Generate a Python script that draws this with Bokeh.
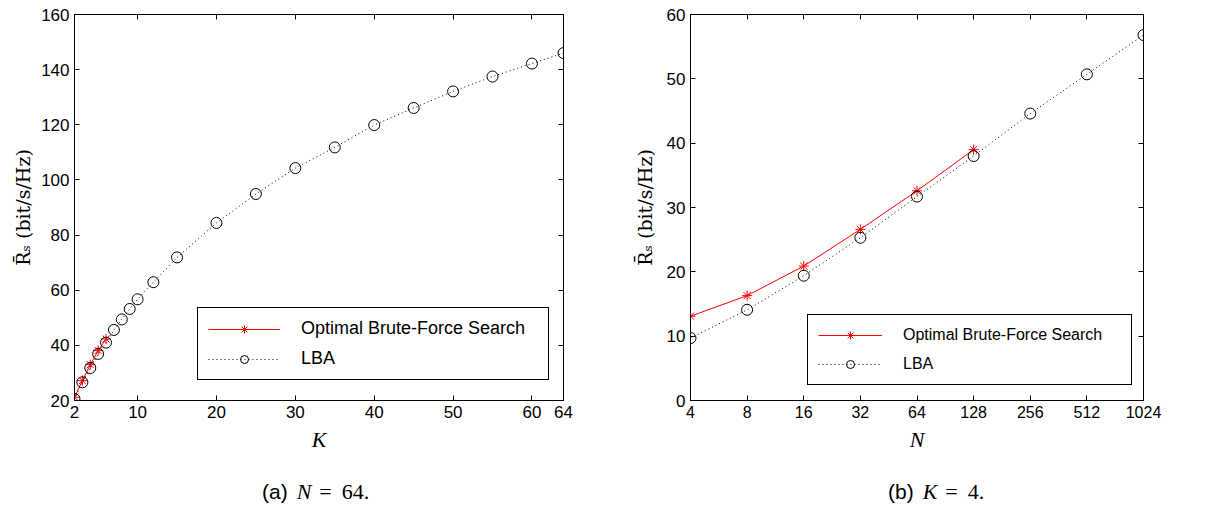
import numpy as np
from bokeh.plotting import figure
from bokeh.layouts import row, column
from bokeh.models import (LinearAxis, LogAxis, FixedTicker, Legend,
                          LegendItem, Range1d, Div)
from bokeh.embed import file_html
from bokeh.resources import INLINE

# ---------------- data: (a) N = 64 ----------------
K_opt = [2, 3, 4, 5, 6]
R_opt_a = [21.2, 27.2, 33.0, 38.1, 42.3]
K_lba = [2, 3, 4, 5, 6, 7, 8, 9, 10, 12, 15, 20, 25, 30, 35, 40, 45, 50, 55, 60, 64]
R_lba_a = [20.6, 26.6, 31.8, 36.9, 41.0, 45.6, 49.4, 53.2, 56.7, 62.9, 71.9,
           84.4, 94.9, 104.3, 111.8, 119.9, 126.1, 132.1, 137.5, 142.2, 146.0]
xticks_a = [2, 10, 20, 30, 40, 50, 60, 64]
yticks_a = [20, 40, 60, 80, 100, 120, 140, 160]

# ---------------- data: (b) K = 4 ----------------
N_opt = [4, 8, 16, 32, 64, 128]
R_opt_b = [13.1, 16.3, 20.9, 26.6, 32.6, 39.0]
N_lba = [4, 8, 16, 32, 64, 128, 256, 512, 1024]
R_lba_b = [9.7, 14.1, 19.4, 25.3, 31.7, 38.0, 44.6, 50.7, 56.8]
xticks_b = [4, 8, 16, 32, 64, 128, 256, 512, 1024]
xtick_labels_b = ["4", "8", "16", "32", "64", "128", "256", "512", "1024"]
yticks_b = [0, 10, 20, 30, 40, 50, 60]

LEG_OPT = "Optimal Brute-Force Search"
LEG_LBA = "LBA"
YLABEL = "R\u0304\u209b (bit/s/Hz)"

SANS = "Liberation Sans"
SERIF = "Liberation Serif"


def style_axis(ax, ticks, size, hidden=False):
    ax.ticker = FixedTicker(ticks=ticks)
    ax.major_tick_in = 5
    ax.major_tick_out = 0
    ax.minor_tick_in = 0
    ax.minor_tick_out = 0
    ax.axis_line_color = "black"
    ax.major_tick_line_color = "black"
    ax.major_label_text_color = "black"
    ax.major_label_text_font = SANS
    if hidden:
        ax.major_label_overrides = {t: "" for t in ticks}
        ax.major_label_text_font_size = "1px"
        ax.major_label_standoff = 0
    else:
        ax.major_label_text_font_size = size
        ax.major_label_standoff = 5


def make_fig(xr, yr, xtype, frame_w, left, right):
    p = figure(frame_width=frame_w, frame_height=386, x_range=xr, y_range=yr,
               x_axis_type=xtype, output_backend="svg", toolbar_location=None,
               min_border_left=left, min_border_right=right,
               min_border_top=14, min_border_bottom=60)
    p.xgrid.visible = False
    p.ygrid.visible = False
    p.outline_line_color = "black"
    p.outline_line_alpha = 1.0
    p.outline_line_width = 1
    p.background_fill_color = "white"
    p.border_fill_color = "white"
    return p


def label_axes(xa, ya, xlabel, ystandoff):
    xa.axis_label = xlabel
    xa.axis_label_text_font = SERIF
    xa.axis_label_text_font_style = "italic"
    xa.axis_label_text_font_size = "22px"
    xa.axis_label_text_color = "black"
    xa.axis_label_standoff = 6
    ya.axis_label = YLABEL
    ya.axis_label_text_font = "DejaVu Serif"
    ya.axis_label_text_font_style = "normal"
    ya.axis_label_text_font_size = "19px"
    ya.axis_label_text_color = "black"
    ya.axis_label_standoff = ystandoff


def add_series(p, xo, yo, xl, yl):
    r1 = p.line(xo, yo, line_color="red", line_width=1)
    r2 = p.scatter(xo, yo, marker="asterisk", size=10, line_color="red", line_width=1)
    r3 = p.line(xl, yl, line_color="black", line_width=1, line_dash="1 3")
    r4 = p.scatter(xl, yl, marker="circle", size=11, fill_color=None,
                   line_color="black", line_width=1)
    return [r1, r2], [r3, r4]


def add_legend(p, opt, lba, loc, glyph_w, label_w, size):
    leg = Legend(items=[LegendItem(label=LEG_OPT, renderers=opt),
                        LegendItem(label=LEG_LBA, renderers=lba)],
                 location=loc, padding=10, spacing=9, glyph_width=glyph_w,
                 glyph_height=20, label_height=20, label_width=label_w,
                 label_standoff=21, border_line_color="black",
                 border_line_width=1, border_line_alpha=1.0,
                 background_fill_alpha=1.0, label_text_font=SANS,
                 label_text_font_size=size, label_text_color="black", margin=0)
    p.add_layout(leg, "center")
    return leg


# ---------------- (a) ----------------
pa = make_fig(Range1d(2, 64), Range1d(20, 160), "linear", 489, 74, 47)
bottom_a = pa.xaxis[0]
left_a = pa.yaxis[0]
style_axis(bottom_a, xticks_a, "17px")
style_axis(left_a, yticks_a, "17px")
label_axes(bottom_a, left_a, "K", 4)
top_a = LinearAxis()
right_a = LinearAxis()
style_axis(top_a, xticks_a, "1px", hidden=True)
style_axis(right_a, yticks_a, "1px", hidden=True)
pa.add_layout(top_a, "above")
pa.add_layout(right_a, "right")
opt_a, lba_a = add_series(pa, K_opt, R_opt_a, K_lba, R_lba_a)
add_legend(pa, opt_a, lba_a, (123, 20), 72, 237, "18px")

# ---------------- (b) ----------------
pb = make_fig(Range1d(4, 1024), Range1d(0, 60), "log", 453, 80, 60)
bottom_b = pb.xaxis[0]
left_b = pb.yaxis[0]
style_axis(bottom_b, xticks_b, "16px")
bottom_b.major_label_overrides = dict(zip(xticks_b, xtick_labels_b))
style_axis(left_b, yticks_b, "17px")
label_axes(bottom_b, left_b, "N", 8)
top_b = LogAxis()
right_b = LinearAxis()
style_axis(top_b, xticks_b, "1px", hidden=True)
style_axis(right_b, yticks_b, "1px", hidden=True)
pb.add_layout(top_b, "above")
pb.add_layout(right_b, "right")
opt_b, lba_b = add_series(pb, N_opt, R_opt_b, N_lba, R_lba_b)
add_legend(pb, opt_b, lba_b, (117, 15), 64, 218, "16px")


# ---------------- captions ----------------
def caption(tag, var, rest, pad):
    html = (
        f'<div style="padding-left:{pad}px; padding-top:21px; white-space:nowrap; '
        f'line-height:22px; color:black;">'
        f'<span style="font-family:\'{SANS}\'; font-size:21px;">{tag}</span>'
        f'<span style="font-family:\'{SERIF}\'; font-style:italic; font-size:22px; '
        f'margin-left:9px;">{var}</span>'
        f'<span style="font-family:\'{SERIF}\'; font-size:22px; margin-left:8px;">=</span>'
        f'<span style="font-family:\'{SERIF}\'; font-size:22px; margin-left:10px;">{rest}</span>'
        f'</div>'
    )
    return html


da = Div(text=caption("(a)", "N", "64.", 262), width=610, height=50, margin=0)
db = Div(text=caption("(b)", "K", "4.", 278), width=593, height=50, margin=0)

layout = column(row(pa, pb), row(da, db))
open("out.html", "w").write(file_html(layout, INLINE))
